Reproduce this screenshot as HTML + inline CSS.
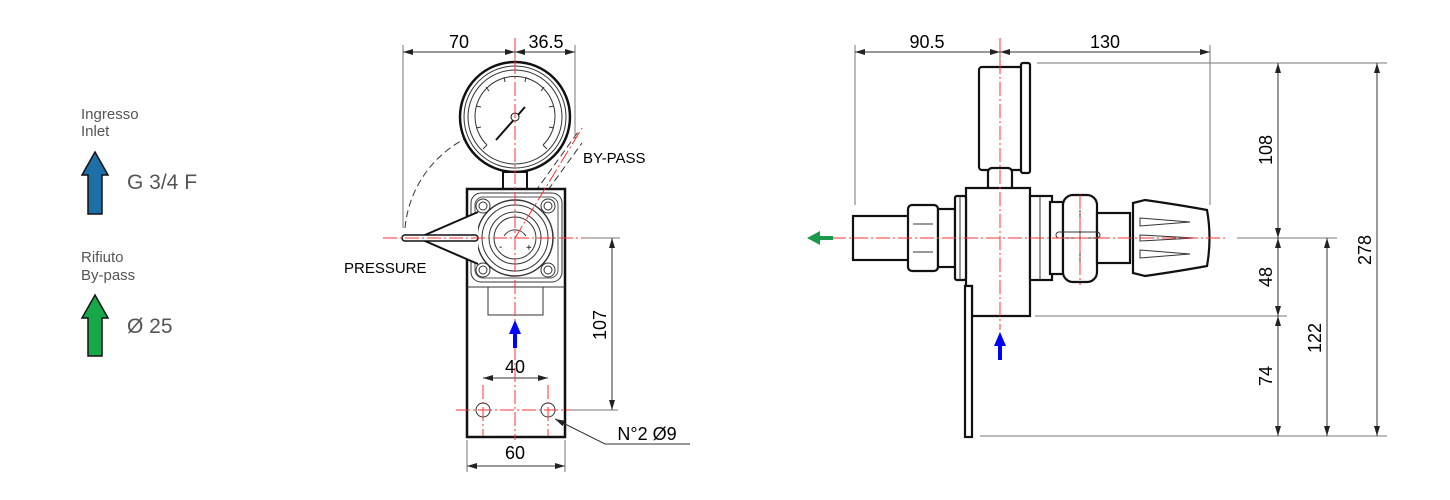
<!DOCTYPE html>
<html><head><meta charset="utf-8"><style>
html,body{margin:0;padding:0;background:#fff;width:1450px;height:500px;overflow:hidden}
svg{display:block}
text{font-family:"Liberation Sans",sans-serif}
</style></head><body>
<svg width="1450" height="500" viewBox="0 0 1450 500" xmlns="http://www.w3.org/2000/svg">
<defs>
<marker id="a" viewBox="0 0 10 6" refX="10" refY="3" markerWidth="10" markerHeight="6" orient="auto-start-reverse" markerUnits="userSpaceOnUse"><path d="M0,0 L10,3 L0,6z" fill="#222"/></marker>
</defs>
<!-- legend -->
<g fill="#555" font-size="15">
<text x="81" y="119">Ingresso</text><text x="81" y="136">Inlet</text>
<text x="81" y="262">Rifiuto</text><text x="81" y="280">By-pass</text>
</g>
<g fill="#555" font-size="21">
<text x="127" y="189">G 3/4 F</text>
<text x="127" y="333">Ø 25</text>
</g>
<path d="M95,152 L108,175 L102,175 L102,214 L88,214 L88,175 L82,175 Z" fill="#1d6fa8" stroke="#111" stroke-width="1.5"/>
<path d="M95,295 L108,318 L102,318 L102,356 L88,356 L88,318 L82,318 Z" fill="#17a84a" stroke="#111" stroke-width="1.5"/>

<!-- LEFT VIEW -->
<!-- dashed arcs -->
<g stroke="#333" stroke-width="1" fill="none" stroke-dasharray="7,4">
<path d="M405,228 A112,112 0 0 1 560,135"/>
<line x1="535" y1="192" x2="578" y2="132"/>
<line x1="548" y1="190" x2="582" y2="143"/>
</g>
<!-- gauge -->
<circle cx="515" cy="117" r="55" fill="#fff" stroke="#111" stroke-width="2.5"/>
<circle cx="515" cy="117" r="51" fill="none" stroke="#333" stroke-width="1"/>
<circle cx="515" cy="117" r="47" fill="none" stroke="#333" stroke-width="1"/>
<path d="M487,145 A40,40 0 1 1 543,145" fill="none" stroke="#333"/>
<g stroke="#333" stroke-width="1">
<line x1="483" y1="149" x2="487" y2="145"/><line x1="476" y1="128" x2="481" y2="127"/>
<line x1="476" y1="106" x2="481" y2="107"/><line x1="486" y1="87" x2="489" y2="91"/>
<line x1="504" y1="77" x2="505" y2="82"/><line x1="526" y1="77" x2="525" y2="82"/>
<line x1="544" y1="87" x2="541" y2="91"/><line x1="554" y1="106" x2="549" y2="107"/>
<line x1="554" y1="128" x2="549" y2="127"/><line x1="547" y1="149" x2="543" y2="145"/>
</g>
<line x1="496" y1="140" x2="525" y2="107" stroke="#111" stroke-width="2"/>
<circle cx="515" cy="117" r="4" fill="#fff" stroke="#111"/>
<rect x="503" y="172" width="24" height="17" fill="#fff" stroke="#111" stroke-width="2"/>
<!-- body -->
<rect x="467" y="189" width="98" height="248" fill="#fff" stroke="#111" stroke-width="2.5"/>
<line x1="467" y1="287" x2="565" y2="287" stroke="#333"/>
<rect x="488" y="287" width="55" height="28" fill="none" stroke="#333"/>
<rect x="471" y="193" width="91" height="89" rx="10" fill="none" stroke="#333"/>
<rect x="475" y="197" width="83" height="81" rx="8" fill="none" stroke="#555"/>
<g fill="none" stroke="#333">
<circle cx="483" cy="206" r="7"/><circle cx="483" cy="206" r="4"/>
<circle cx="548" cy="206" r="7"/><circle cx="548" cy="206" r="4"/>
<circle cx="483" cy="270" r="7"/><circle cx="483" cy="270" r="4"/>
<circle cx="548" cy="270" r="7"/><circle cx="548" cy="270" r="4"/>
<circle cx="515" cy="238" r="38" fill="#fff" stroke-width="1.5"/>
<circle cx="515" cy="238" r="33"/>
<circle cx="515" cy="238" r="26"/>
<circle cx="515" cy="238" r="21"/>
<path d="M504,236 A13,13 0 0 1 526,236"/>
<circle cx="483" cy="410" r="7"/><circle cx="548" cy="410" r="7"/>
</g>
<text x="499" y="250" font-size="10">-</text><text x="526" y="251" font-size="10">+</text>
<!-- lever -->
<path d="M478,212 L425,235 L425,241 L478,264" fill="#fff" stroke="#111" stroke-width="2"/>
<rect x="402" y="235" width="76" height="6" rx="3" fill="#fff" stroke="#111" stroke-width="1.5"/>
<!-- dims left -->
<g stroke="#777" stroke-width="1" fill="none">
<line x1="403" y1="45" x2="403" y2="228"/>
<line x1="575" y1="45" x2="575" y2="140"/>
<line x1="515" y1="45" x2="515" y2="60"/>
<line x1="583" y1="238" x2="620" y2="238"/>
<line x1="572" y1="410" x2="618" y2="410"/>
<line x1="467" y1="440" x2="467" y2="472"/>
<line x1="565" y1="440" x2="565" y2="472"/>
</g>
<g stroke="#333" stroke-width="1" fill="none">
<line x1="403" y1="52" x2="515" y2="52" marker-start="url(#a)" marker-end="url(#a)"/>
<line x1="515" y1="52" x2="575" y2="52" marker-start="url(#a)" marker-end="url(#a)"/>
<line x1="612" y1="238" x2="612" y2="410" marker-start="url(#a)" marker-end="url(#a)"/>
<line x1="483" y1="378" x2="548" y2="378" marker-start="url(#a)" marker-end="url(#a)"/>
<line x1="467" y1="466" x2="565" y2="466" marker-start="url(#a)" marker-end="url(#a)"/>
<polyline points="555,419 605,444 690,444" marker-start="url(#a)"/>
</g>
<g font-size="18" fill="#000" text-anchor="middle">
<text x="459" y="48">70</text><text x="546" y="48">36.5</text>
<text x="515" y="373">40</text><text x="515" y="459">60</text>
<text transform="translate(606,325) rotate(-90)">107</text>
<text x="647" y="440">N°2 Ø9</text>
</g>
<g font-size="15" fill="#000"><text x="344" y="273">PRESSURE</text><text x="583" y="163">BY-PASS</text></g>
<!-- red centerlines -->
<g stroke="#f33" stroke-width="1" stroke-dasharray="14,3,2,3" fill="none">
<line x1="383" y1="238" x2="583" y2="238"/>
<line x1="515" y1="38" x2="515" y2="440"/>
<line x1="515" y1="238" x2="582" y2="128"/>
<line x1="456" y1="410" x2="572" y2="410"/>
<line x1="483" y1="385" x2="483" y2="436"/>
<line x1="548" y1="385" x2="548" y2="436"/>
</g>
<path d="M515,320 L521,334 L517,334 L517,348 L513,348 L513,334 L509,334Z" fill="#00f"/>

<!-- RIGHT VIEW -->
<g stroke="#777" stroke-width="1" fill="none">
<line x1="855" y1="45" x2="855" y2="205"/>
<line x1="1210" y1="45" x2="1210" y2="205"/>
<line x1="1000" y1="45" x2="1000" y2="60"/>
<line x1="1037" y1="63" x2="1387" y2="63"/>
<line x1="1237" y1="238" x2="1337" y2="238"/>
<line x1="1035" y1="316" x2="1287" y2="316"/>
<line x1="980" y1="436" x2="1387" y2="436"/>
</g>
<g stroke="#333" stroke-width="1" fill="none">
<line x1="855" y1="52" x2="1000" y2="52" marker-start="url(#a)" marker-end="url(#a)"/>
<line x1="1000" y1="52" x2="1210" y2="52" marker-start="url(#a)" marker-end="url(#a)"/>
<line x1="1278" y1="63" x2="1278" y2="238" marker-start="url(#a)" marker-end="url(#a)"/>
<line x1="1278" y1="238" x2="1278" y2="316" marker-start="url(#a)" marker-end="url(#a)"/>
<line x1="1278" y1="316" x2="1278" y2="436" marker-start="url(#a)" marker-end="url(#a)"/>
<line x1="1327" y1="238" x2="1327" y2="436" marker-start="url(#a)" marker-end="url(#a)"/>
<line x1="1377" y1="63" x2="1377" y2="436" marker-start="url(#a)" marker-end="url(#a)"/>
</g>
<g font-size="18" fill="#000" text-anchor="middle">
<text x="927" y="48">90.5</text><text x="1105" y="48">130</text>
<text transform="translate(1272,150) rotate(-90)">108</text>
<text transform="translate(1272,277) rotate(-90)">48</text>
<text transform="translate(1272,376) rotate(-90)">74</text>
<text transform="translate(1321,338) rotate(-90)">122</text>
<text transform="translate(1371,250) rotate(-90)">278</text>
</g>
<g stroke="#111" stroke-width="2.2" fill="#fff">
<rect x="979" y="67" width="44" height="103" rx="3"/>
<rect x="1021" y="63" width="9" height="110" rx="2"/>
<rect x="988" y="168" width="24" height="22" rx="4"/>
<path d="M966,188 L1030,188 L1030,316 L972,316 L972,286 L966,286Z"/>
<rect x="965" y="286" width="7" height="151"/>
<rect x="853" y="216" width="57" height="44"/>
<rect x="908" y="205" width="30" height="66" rx="4"/>
<rect x="938" y="209" width="17" height="58"/>
<rect x="955" y="196" width="11" height="84" rx="2"/>
<rect x="1030" y="196" width="22" height="84"/>
<rect x="1050" y="202" width="13" height="72"/>
<rect x="1063" y="195" width="34" height="87" rx="10"/>
<rect x="1097" y="213" width="33" height="50"/>
<path d="M1133,203 L1145,200 Q1180,205 1207,210 Q1212,238 1207,266 Q1180,271 1145,276 L1133,273Z"/>
</g>
<g stroke="#333" stroke-width="1" fill="none">
<line x1="913" y1="224" x2="933" y2="224"/><line x1="913" y1="252" x2="933" y2="252"/>
<line x1="960" y1="196" x2="960" y2="280"/>
<line x1="1040" y1="196" x2="1040" y2="280"/>
<rect x="1056" y="232" width="44" height="6" rx="3"/>
<line x1="1080" y1="210" x2="1080" y2="265"/>
<path d="M1140,218 L1190,222 L1140,226Z"/><path d="M1140,235 L1195,238 L1140,241Z"/><path d="M1140,250 L1190,254 L1140,258Z"/>
</g>
<g stroke="#f33" stroke-width="1" stroke-dasharray="14,3,2,3" fill="none">
<line x1="832" y1="238" x2="1225" y2="238"/>
<line x1="1000" y1="38" x2="1000" y2="330"/>
<line x1="1080" y1="195" x2="1080" y2="285"/>
</g>
<path d="M807,238 L820,231 L820,236 L833,236 L833,240 L820,240 L820,245Z" fill="#1a9a48"/>
<path d="M1000,332 L1006,346 L1002,346 L1002,360 L998,360 L998,346 L994,346Z" fill="#00f"/>
</svg>
</body></html>
